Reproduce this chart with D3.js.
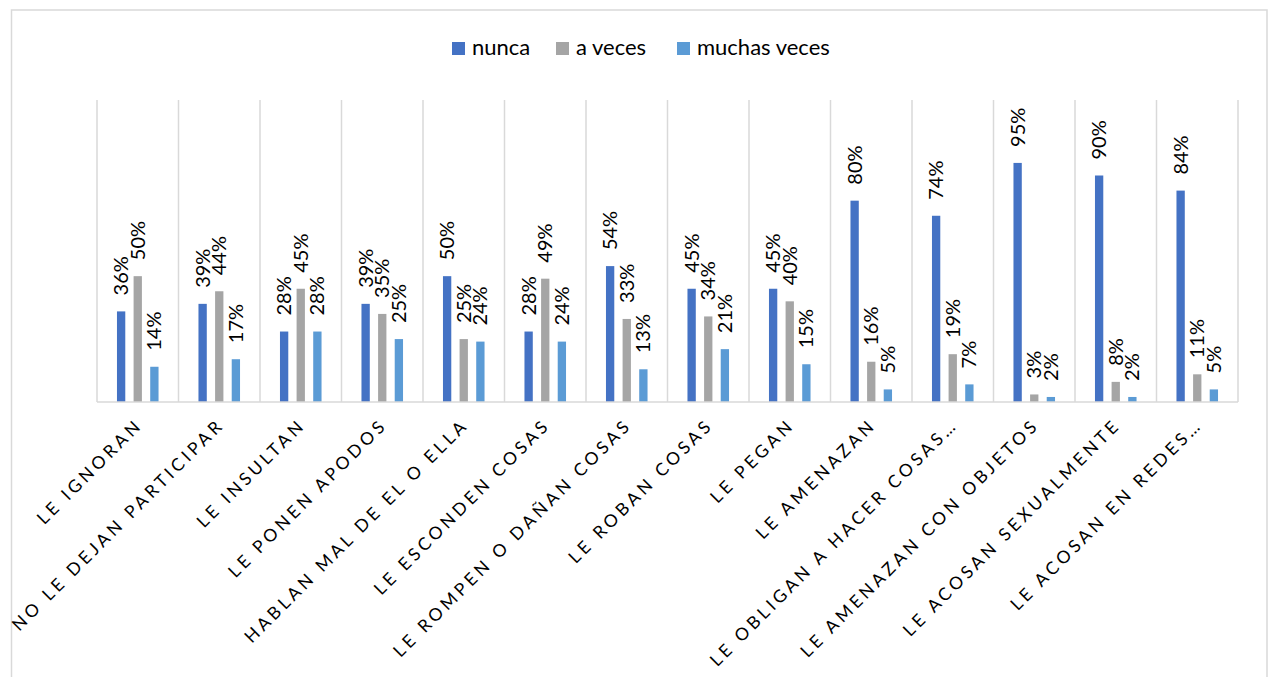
<!DOCTYPE html>
<html><head><meta charset="utf-8">
<script src="https://cdn.jsdelivr.net/npm/d3@7"></script>
<style>
html,body{margin:0;padding:0;background:#fff;}
svg{display:block;}
</style></head>
<body>
<svg id="chart" width="1268" height="677"></svg>
<script>
const categories = [
  "LE IGNORAN","NO LE DEJAN PARTICIPAR","LE INSULTAN","LE PONEN APODOS",
  "HABLAN MAL DE EL O ELLA","LE ESCONDEN COSAS","LE ROMPEN O DAÑAN COSAS",
  "LE ROBAN COSAS","LE PEGAN","LE AMENAZAN","LE OBLIGAN A HACER COSAS…",
  "LE AMENAZAN CON OBJETOS","LE ACOSAN SEXUALMENTE","LE ACOSAN EN REDES…"
];
const seriesNames = ["nunca","a veces","muchas veces"];
const nunca        = [0.36,0.39,0.28,0.39,0.50,0.28,0.54,0.45,0.45,0.80,0.74,0.95,0.90,0.84];
const aVeces       = [0.50,0.44,0.45,0.35,0.25,0.49,0.33,0.34,0.40,0.16,0.19,0.03,0.08,0.11];
const muchasVeces  = [0.14,0.17,0.28,0.25,0.24,0.24,0.13,0.21,0.15,0.05,0.07,0.02,0.02,0.05];
const colors = ["#4472C4","#A5A5A5","#5B9BD5"];

const seriesValues = [nunca, aVeces, muchasVeces];
const svg = d3.select("#chart");
const font = "Lato, 'Open Sans', sans-serif";

// frame
svg.append("rect").attr("x",11.5).attr("y",10).attr("width",1255.5).attr("height",700)
  .attr("fill","none").attr("stroke","#D9D9D9").attr("stroke-width",1.5);

const plotLeft = 97, plotRight = 1238, plotTop = 100, plotBottom = 402;
const x0 = d3.scaleBand().domain(categories).range([plotLeft, plotRight]).padding(0);
const bw = x0.bandwidth();
const x1 = d3.scaleBand().domain(seriesNames).range([bw*0.245, bw*0.755]).paddingInner(0.5).paddingOuter(0);
const y = d3.scaleLinear().domain([0, 1.2]).range([plotBottom, plotTop]);

// vertical gridlines at category boundaries
const bounds = categories.map(c => x0(c)).concat([plotRight]);
svg.append("g").selectAll("line").data(bounds).join("line")
  .attr("x1", d => d).attr("x2", d => d)
  .attr("y1", plotTop).attr("y2", plotBottom)
  .attr("stroke","#D9D9D9").attr("stroke-width",1.5);

// bars
const groups = svg.append("g").selectAll("g").data(categories).join("g")
  .attr("transform", c => `translate(${x0(c)},0)`);
groups.selectAll("rect").data((c,i) => seriesNames.map((s,j) => ({s, j, v: seriesValues[j][i]})))
  .join("rect")
  .attr("x", d => x1(d.s)).attr("width", x1.bandwidth())
  .attr("y", d => y(d.v)).attr("height", d => y(0) - y(d.v))
  .attr("fill", d => colors[d.j]);

// labels
groups.selectAll("text").data((c,i) => seriesNames.map((s,j) => ({s, j, v: seriesValues[j][i]})))
  .join("text")
  .attr("transform", d => `translate(${x1(d.s) + x1.bandwidth()/2 + 7},${y(d.v) - 16}) rotate(-90)`)
  .attr("text-anchor","start")
  .attr("font-family", font).attr("font-size", 20).attr("fill","#000")
  .text(d => Math.round(d.v*100) + "%");

// baseline
svg.append("line").attr("x1",plotLeft).attr("x2",plotRight).attr("y1",plotBottom).attr("y2",plotBottom)
  .attr("stroke","#D9D9D9").attr("stroke-width",1.5);

// category labels
svg.append("g").selectAll("text").data(categories).join("text")
  .attr("transform", c => `translate(${x0(c) + bw/2 + 6},${plotBottom + 24}) rotate(-45)`)
  .attr("text-anchor","end")
  .attr("font-family", font).attr("font-size", 17.5).attr("letter-spacing", 3.6).attr("fill","#000")
  .text(c => c);

// legend
const legendX = [452, 556, 677];
const legend = svg.append("g").selectAll("g").data(seriesNames).join("g")
  .attr("transform", (d,i) => `translate(${legendX[i]},42)`);
legend.append("rect").attr("width",13).attr("height",13).attr("fill",(d,i)=>colors[i]);
legend.append("text").attr("x",20).attr("y",13)
  .attr("font-family", font).attr("font-size", 22).attr("fill","#000")
  .text(d => d);
</script>
</body></html>
